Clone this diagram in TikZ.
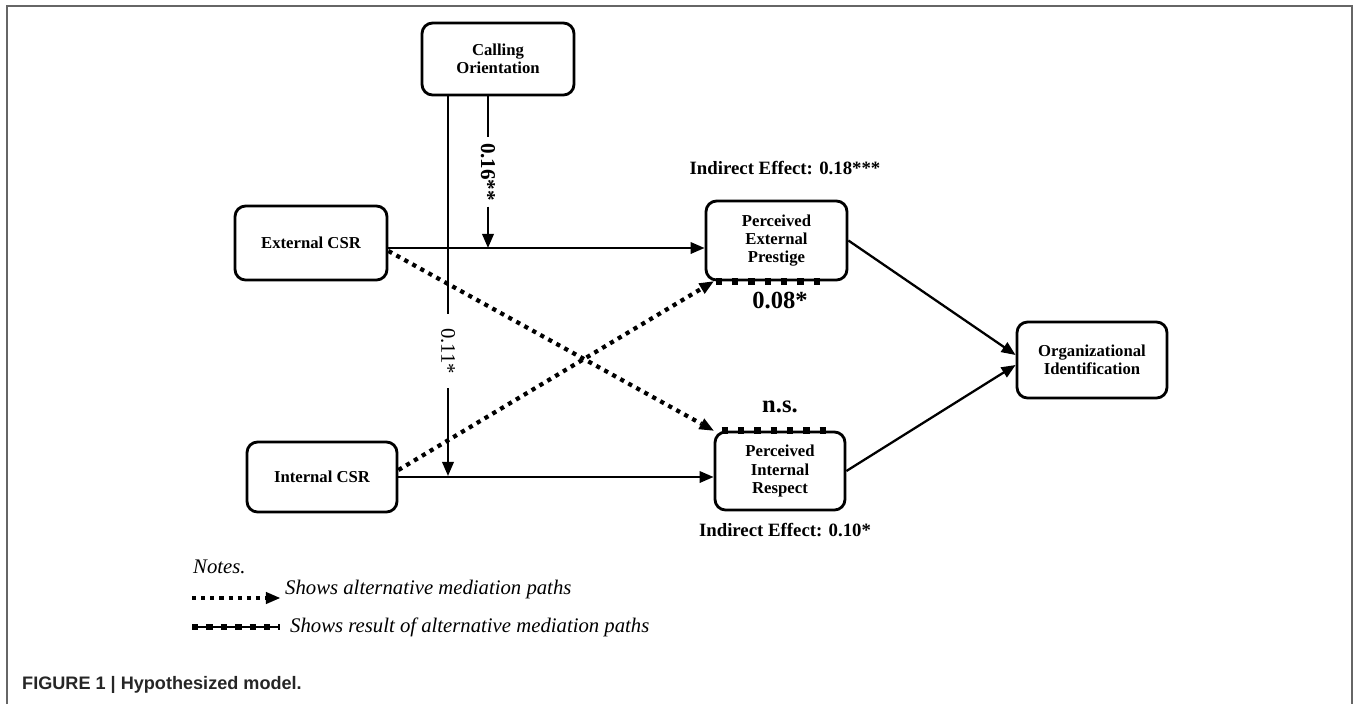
\documentclass[tikz,border=0pt]{standalone}
\usepackage{fontspec}
\setmainfont{Liberation Serif}
\newfontfamily\capfont{Liberation Sans}
\usetikzlibrary{arrows.meta}
\tikzset{
box/.style={draw,line width=1.6pt,rounded corners=6pt,align=center,inner sep=2pt,font=\bfseries\fontsize{9.5}{10.4}\selectfont},
arr/.style={line width=1.3pt,-{Triangle[length=8pt,width=6.5pt]}},
dots/.style={line width=2.4pt,dash pattern=on 2.4pt off 2.8pt,-{Triangle[length=8pt,width=7pt,line width=0pt]}},
resline/.style={line width=3.6pt,dash pattern=on 3.6pt off 5.7pt},
lbl/.style={font=\bfseries\fontsize{10.7}{12}\selectfont},
big/.style={font=\bfseries\fontsize{14}{16}\selectfont},
note/.style={anchor=west,font=\itshape\fontsize{11.8}{14}\selectfont}
}
\begin{document}
\begin{tikzpicture}[x=0.02cm,y=-0.02cm]
\useasboundingbox(0,0)rectangle(1357,704);
\draw[line width=1.2pt,black!60](7,704)--(7,6)--(1352,6)--(1352,704);
\node[box,minimum width=3.04cm,minimum height=1.44cm](cal)at(498,59){Calling\\Orientation};
\node[box,minimum width=3.04cm,minimum height=1.48cm](ext)at(311,243){External CSR};
\node[box,minimum width=3cm,minimum height=1.4cm](int)at(322,477){Internal CSR};
\node[box,minimum width=2.82cm,minimum height=1.58cm](pep)at(776.5,240.5){Perceived\\External\\Prestige};
\node[box,minimum width=2.6cm,minimum height=1.56cm](pir)at(780,471){Perceived\\Internal\\Respect};
\node[box,minimum width=3cm,minimum height=1.52cm](oi)at(1092,360){Organizational\\Identification};
\node[lbl](ie1)at(785,168){Indirect Effect: 0.18***};
\node[lbl](ie2)at(785,530){Indirect Effect: 0.10*};
\node[big](r1)at(780,300){0.08*};\node[big](r2)at(780,407){n.s.};
\node[rotate=-90,inner xsep=3pt,font=\bfseries\fontsize{12}{14}\selectfont](l16)at(488,172){0.16**};
\node[rotate=-90,inner xsep=8pt,font=\fontsize{11.8}{14}\selectfont](l11)at(448,351){0.11*};
\coordinate(m16)at(488,248);\coordinate(m11)at(448,476);
\draw[line width=1.3pt](cal.south-|m16)--(l16.west);\draw[arr](l16.east)--(m16);
\draw[line width=1.3pt](cal.south-|m11)--(l11.west);\draw[arr](l11.east)--(m11);
\draw[arr]([yshift=-0.1cm]ext.east)--([yshift=-0.1cm]ext.east-|pep.west);
\draw[arr](int.east)--(int.east-|pir.west);
\draw[dots]([yshift=-0.16cm]ext.east)--(pir.north west);
\draw[dots]([yshift=0.14cm]int.east)--([xshift=0.18cm]pep.south west);
\draw[resline]([xshift=0.22cm]pep.south west)--++(108,0);
\draw[resline]([xshift=0.16cm]pir.north west)--++(108,0);
\draw[arr](pep.east)--([yshift=0.1cm]oi.west);
\draw[arr](pir.east)--([yshift=-0.1cm]oi.west);
\node[note](notes)at(187,567){Notes.};
\coordinate(la1)at(192,598);\coordinate(la2)at(280,598);
\draw[dots](la1)--(la2);
\node[note](t1)at(279,590){Shows alternative mediation paths};
\coordinate(lb1)at(192,627);\coordinate(lb2)at(280,627);
\draw[line width=1.3pt](lb1)--(lb2);\draw[resline,dash pattern=on 3.6pt off 4.6pt](lb1)--(lb2);
\node[note](t2)at(284,627){Shows result of alternative mediation paths};
\node[anchor=west,text=black!85,font=\capfont\bfseries\fontsize{10.3}{12}\selectfont](cap)at(16,685){FIGURE 1 | Hypothesized model.};
\end{tikzpicture}
\end{document}
